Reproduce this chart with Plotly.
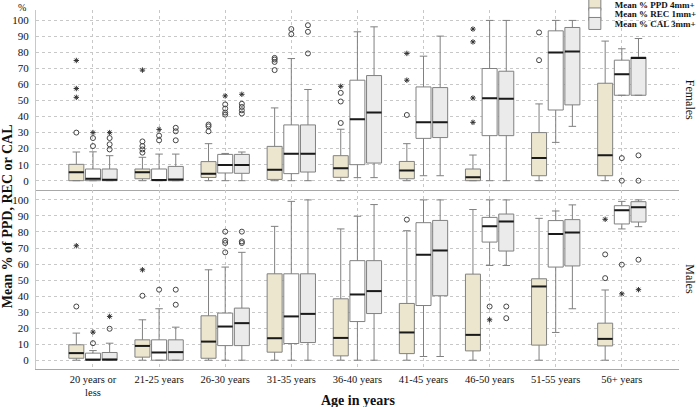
import plotly.graph_objects as go
from plotly.subplots import make_subplots

AGE_GROUPS = ['20 years or<br>less', '21-25 years', '26-30 years', '31-35 years', '36-40 years',
              '41-45 years', '46-50 years', '51-55 years', '56+ years']
SERIES = ['Mean % PPD 4mm+', 'Mean % REC 1mm+', 'Mean % CAL 3mm+']

# rows per age group: lower whisker, q1, median, q3, upper whisker
F_PPD = [[0, 0, 5.2, 10.2, 17.9], [0, 1.2, 5.2, 7.3, 14.6], [0, 2, 4.4, 11.9, 23.1],
         [0, 0.8, 6.8, 21.4, 45.4], [0, 2.1, 7.7, 15.6, 32.1], [0, 1.2, 6.4, 12, 23.1],
         [0, 0, 2.1, 7.3, 16], [0, 3.1, 14.1, 30, 47.9], [0, 3.1, 15.8, 60.8, 87.1]]
F_REC = [[0, 0, 1.2, 7.3, 18], [0, 0, 0.5, 7.3, 16.6], [0, 4.8, 9.8, 16.4, 17],
         [0, 4.4, 16.8, 34.8, 76.2], [1.9, 10, 38.3, 62.7, 92.9], [3.1, 26.4, 36.4, 58.5, 77.7],
         [0, 28.1, 51.4, 70, 100], [23.9, 44.1, 80, 93.5, 100], [53.3, 53.3, 66.4, 75.2, 82.3]]
F_CAL = [[0, 0, 0.6, 7.3, 15.6], [0, 0, 0.8, 8.9, 16.6], [0, 4.6, 9.8, 16.4, 17.9],
         [0, 5.4, 16.8, 34.8, 56.9], [1.9, 11, 42.5, 65.6, 96], [3.1, 26.9, 36.4, 58.1, 90.2],
         [0, 28.1, 51.2, 68.3, 100], [33.9, 47.3, 80.6, 95.6, 100], [53.3, 53.3, 76.6, 77.1, 88.7]]

M_PPD = [[0, 1.2, 4.4, 9.6, 16.9], [0, 1.9, 8.9, 12.7, 25.2], [0, 1.2, 11.6, 27.7, 56.4],
         [0, 5, 13.7, 53.9, 83.5], [0, 2.7, 13.9, 38.3, 81.9], [0, 4.1, 17.3, 35.4, 80.8],
         [0, 5.8, 15.8, 53.7, 94], [0, 9.4, 46, 50.8, 88.5], [0, 8.9, 13.3, 23.1, 43.8]]
M_REC = [[0, 0, 0.3, 4.4, 6], [0, 0, 4.8, 12.7, 32.1], [0, 9.1, 21, 29.4, 58.1],
         [0, 10.4, 27.3, 53.9, 99.1], [0, 24.1, 41, 62.1, 89.8], [2.3, 34.1, 65.8, 85.8, 100],
         [59.1, 73.7, 83.5, 89.1, 100], [17.3, 58.1, 78.8, 87.1, 93.1], [81.9, 85, 93.5, 96.4, 99.1]]
M_CAL = [[0, 0, 0.4, 4.8, 10.6], [0, 0, 5, 12.7, 20.6], [0, 9.1, 23.1, 32.5, 67.3],
         [0, 11, 28.9, 53.9, 100], [0, 29.1, 43.1, 62.1, 97.1], [2.3, 40.2, 68.5, 87.2, 100],
         [59.1, 68.1, 86.6, 91.2, 100], [32.1, 58.8, 79.6, 87.7, 96.9], [83.3, 86.2, 95.4, 98.9, 100]]

# outliers: (age group index, value, 'o' = outlier / '*' = extreme)
F_PPD_OUT = [(0, 30, 'o'), (0, 75, '*'), (0, 57.5, '*'), (0, 52, '*'),
             (1, 17.5, 'o'), (1, 19.5, 'o'), (1, 21.6, 'o'), (1, 24.5, 'o'), (1, 69, '*'),
             (2, 30.8, 'o'), (2, 33.9, 'o'), (2, 35, 'o'),
             (3, 69, 'o'), (3, 74.1, 'o'), (3, 75.6, 'o'), (3, 76.6, 'o'),
             (4, 36, 'o'), (4, 49.4, 'o'), (4, 54.8, 'o'), (4, 58.9, '*'),
             (5, 41, 'o'), (5, 62.7, '*'), (5, 79.4, '*'),
             (6, 36.4, '*'), (6, 51.6, '*'), (6, 86.6, '*'), (6, 94.6, '*'),
             (7, 75.2, 'o'), (7, 92.5, 'o')]
F_REC_OUT = [(0, 21.6, 'o'), (0, 26.6, 'o'), (0, 30, '*'),
             (1, 25.2, 'o'), (1, 28.1, 'o'), (1, 32, '*'),
             (2, 41.2, 'o'), (2, 42.5, 'o'), (2, 45, 'o'), (2, 47.6, 'o'), (2, 52.9, '*'),
             (3, 91.4, 'o'), (3, 94.6, 'o'),
             (8, 14.1, 'o'), (8, 0, 'o')]
F_CAL_OUT = [(0, 19.5, 'o'), (0, 22.7, 'o'), (0, 26.6, 'o'), (0, 30, '*'),
             (1, 25.2, 'o'), (1, 30.8, 'o'), (1, 33, 'o'),
             (2, 41.9, 'o'), (2, 43.9, 'o'), (2, 46, 'o'), (2, 48, 'o'), (2, 53.9, '*'),
             (3, 79.4, 'o'), (3, 92.9, 'o'), (3, 97, 'o'),
             (8, 15.8, 'o'), (8, 0, 'o')]

M_PPD_OUT = [(0, 33.5, 'o'), (0, 71.4, '*'), (1, 40.2, 'o'), (1, 56.4, '*'),
             (5, 87.7, 'o'), (8, 51.2, 'o'), (8, 66, 'o'), (8, 87.9, '*')]
M_REC_OUT = [(0, 10.6, 'o'), (0, 17.5, '*'), (1, 44, 'o'),
             (2, 67.3, 'o'), (2, 73.1, 'o'), (2, 74.6, 'o'), (2, 80.2, 'o'),
             (6, 33.5, 'o'), (6, 25.2, '*'), (8, 59.6, 'o'), (8, 41.4, '*')]
M_CAL_OUT = [(0, 19.6, 'o'), (0, 27.3, '*'), (1, 34.6, 'o'), (1, 44, 'o'),
             (2, 73.1, 'o'), (2, 74.1, 'o'), (2, 80.2, 'o'),
             (6, 33.5, 'o'), (6, 26.2, 'o'), (8, 62.7, 'o'), (8, 44, '*')]

FILLS = ['#EDE6CF', '#FFFFFF', '#EBEBEB']
OFFSETS = [-0.252, 0.0, 0.252]
BOX_W = 0.227
SERIF = 'Liberation Serif, Times New Roman, serif'
GRID = '#C8C8C8'

fig = make_subplots(rows=2, cols=1, shared_xaxes=True, vertical_spacing=0)


def add_panel(row, stats, outs, show_legend):
    for k, (rows, out) in enumerate(zip(stats, outs)):
        pos = [i + OFFSETS[k] for i in range(len(rows))]
        fig.add_trace(go.Box(
            x=pos,
            lowerfence=[r[0] for r in rows], q1=[r[1] for r in rows],
            median=[r[2] for r in rows], q3=[r[3] for r in rows],
            upperfence=[r[4] for r in rows],
            width=BOX_W, whiskerwidth=0.5, boxpoints=False,
            fillcolor=FILLS[k], line=dict(color='#808080', width=1),
            name=SERIES[k], showlegend=show_legend,
            legend=['legend', 'legend2', 'legend3'][k],
            hoverinfo='skip'),
            row=row, col=1)
        # darker median bars, like the SPSS output
        mx, my = [], []
        for p, r in zip(pos, rows):
            mx += [p - BOX_W / 2, p + BOX_W / 2, None]
            my += [r[2], r[2], None]
        fig.add_trace(go.Scatter(x=mx, y=my, mode='lines', line=dict(color='#1a1a1a', width=2),
                                 showlegend=False, hoverinfo='skip'), row=row, col=1)
        for sym, mk in (('o', dict(symbol='circle-open', size=5, color='#444',
                                   line=dict(width=1, color='#444'))),
                        ('*', dict(symbol='asterisk-open', size=4.5, color='#333',
                                   line=dict(width=1, color='#333')))):
            pts = [(g + OFFSETS[k], v) for g, v, s in out if s == sym]
            if not pts:
                continue
            fig.add_trace(go.Scatter(x=[p[0] for p in pts], y=[p[1] for p in pts], mode='markers',
                                     marker=mk, showlegend=False, hoverinfo='skip'),
                          row=row, col=1)


add_panel(1, [F_PPD, F_REC, F_CAL], [F_PPD_OUT, F_REC_OUT, F_CAL_OUT], True)
add_panel(2, [M_PPD, M_REC, M_CAL], [M_PPD_OUT, M_REC_OUT, M_CAL_OUT], False)

fig.update_xaxes(range=[-0.862, 8.865], tickvals=list(range(9)), ticktext=AGE_GROUPS,
                 showgrid=True, gridcolor=GRID, griddash='dot', gridwidth=1,
                 zeroline=False, showline=True, linecolor='#A8A8A8', linewidth=1.2,
                 ticks='', tickfont=dict(family=SERIF, size=10.5, color='#111'))
fig.update_xaxes(showticklabels=False, row=1, col=1)
fig.update_yaxes(range=[-5.5, 106.5], tickvals=list(range(0, 101, 10)),
                 showgrid=True, gridcolor=GRID, griddash='dot', gridwidth=1,
                 zeroline=False, showline=True, linecolor='#C8C8C8', linewidth=1,
                 ticks='', ticklabelstandoff=4,
                 tickfont=dict(family=SERIF, size=11, color='#111'))

legend_base = dict(x=0.838, xanchor='left', yanchor='middle', bgcolor='rgba(0,0,0,0)',
                   borderwidth=0, itemwidth=30,
                   font=dict(family=SERIF, size=9, color='#111', weight='bold'))
fig.update_layout(
    legend=dict(legend_base, y=1.0155),
    legend2=dict(legend_base, y=0.989),
    legend3=dict(legend_base, y=0.9625),
)

fig.update_layout(
    width=699, height=407,
    margin=dict(l=36, r=20, t=10, b=38, pad=0, autoexpand=False),
    plot_bgcolor='white', paper_bgcolor='white',
    font=dict(family=SERIF, color='#111'),
    annotations=[
        dict(x=-0.012, y=1.0056, xref='paper', yref='paper', text='%', showarrow=False,
             xanchor='right', yanchor='middle', font=dict(family=SERIF, size=10)),
        dict(x=-0.044, y=0.425, xref='paper', yref='paper', text='<b>Mean % of PPD, REC or CAL</b>',
             textangle=-90, showarrow=False, xanchor='center', yanchor='middle',
             font=dict(family=SERIF, size=14)),
        dict(x=0.5, y=-0.0864, xref='paper', yref='paper', text='<b>Age in years</b>',
             showarrow=False, xanchor='center', yanchor='middle',
             font=dict(family=SERIF, size=14)),
        dict(x=1.0, y=0.75, xref='paper', yref='paper', text='Females', textangle=90,
             showarrow=False, xanchor='left', yanchor='middle', xshift=2,
             font=dict(family=SERIF, size=12)),
        dict(x=1.0, y=0.25, xref='paper', yref='paper', text='Males', textangle=90,
             showarrow=False, xanchor='left', yanchor='middle', xshift=2,
             font=dict(family=SERIF, size=12)),
    ],
)

# the default page puts an 8px body margin around the chart
fig.write_html('out.html', config={'displayModeBar': False},
               post_script="document.body.style.margin='0px';")
